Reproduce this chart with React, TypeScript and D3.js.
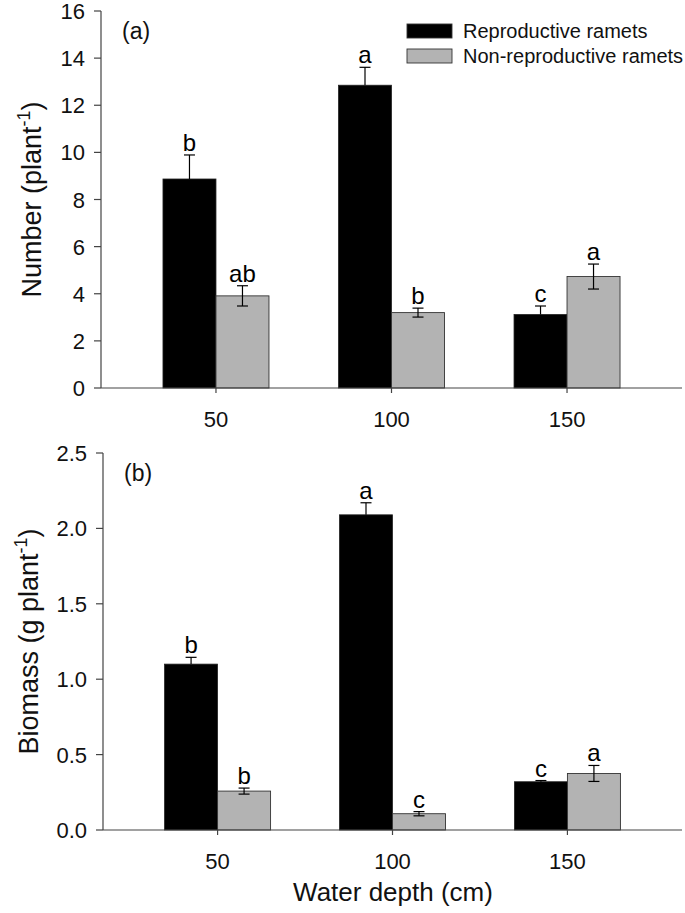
import React from "react";
import * as d3 from "d3";

const depths = ["50", "100", "150"];
const seriesNames = ["Reproductive ramets", "Non-reproductive ramets"];

// Panel (a): Number (plant-1)
const numRepro = [8.87, 12.85, 3.12];
const numReproErr = [1.02, 0.76, 0.36];
const numNonRepro = [3.91, 3.2, 4.73];
const numNonReproErr = [0.43, 0.19, 0.53];
const numReproLetters = ["b", "a", "c"];
const numNonReproLetters = ["ab", "b", "a"];
const numTicks = [0, 2, 4, 6, 8, 10, 12, 14, 16];

// Panel (b): Biomass (g plant-1)
const bioRepro = [1.1, 2.09, 0.32];
const bioReproErr = [0.045, 0.08, 0.008];
const bioNonRepro = [0.258, 0.108, 0.375];
const bioNonReproErr = [0.02, 0.014, 0.053];
const bioReproLetters = ["b", "a", "c"];
const bioNonReproLetters = ["b", "c", "a"];
const bioTicks = [0, 0.5, 1.0, 1.5, 2.0, 2.5];

const FONT = "'Liberation Sans', Arial, Helvetica, sans-serif";
const BAR_W = 53;
const GREY = "#b3b3b3";

type PanelProps = {
  x0: number; x1: number; yTop: number; yBottom: number;
  yMax: number; ticks: number[]; fmt: (v: number) => string;
  repro: number[]; reproErr: number[]; non: number[]; nonErr: number[];
  reproLetters: string[]; nonLetters: string[];
  panelLabel: string; yTitle: string; yTitleX: number;
  tickLabelY: number;
};

function Panel(p: PanelProps) {
  const x = d3.scalePoint<string>().domain(depths).range([p.x0, p.x1]).padding(0.655);
  const y = d3.scaleLinear().domain([0, p.yMax]).range([p.yBottom, p.yTop]);
  const cy = (p.yTop + p.yBottom) / 2;
  const errBar = (cx: number, v: number, e: number, both: boolean, key: string) => {
    const top = y(v + e);
    const bot = both ? y(v - e) : y(v);
    return (
      <g key={key} stroke="#000" strokeWidth={1.2}>
        <line x1={cx} x2={cx} y1={top} y2={bot} />
        <line x1={cx - 5.5} x2={cx + 5.5} y1={top} y2={top} />
        {both && <line x1={cx - 5.5} x2={cx + 5.5} y1={bot} y2={bot} />}
      </g>
    );
  };
  return (
    <g fontFamily={FONT}>
      {depths.map((d, i) => {
        const c = x(d) as number;
        const bx = c - BAR_W / 2;
        const gx = c + BAR_W / 2;
        return (
          <g key={d}>
            <rect x={c - BAR_W} y={y(p.repro[i])} width={BAR_W} height={y(0) - y(p.repro[i])} fill="#000" stroke="#222" strokeWidth={0.8} />
            <rect x={c} y={y(p.non[i])} width={BAR_W} height={y(0) - y(p.non[i])} fill={GREY} stroke="#333" strokeWidth={0.9} />
            {errBar(bx, p.repro[i], p.reproErr[i], false, "er" + i)}
            {errBar(gx, p.non[i], p.nonErr[i], true, "en" + i)}
            <text x={bx} y={y(p.repro[i] + p.reproErr[i]) - 4} textAnchor="middle" fontSize={24} fill="#000">{p.reproLetters[i]}</text>
            <text x={gx} y={y(p.non[i] + p.nonErr[i]) - 4} textAnchor="middle" fontSize={24} fill="#000">{p.nonLetters[i]}</text>
          </g>
        );
      })}
      <line x1={p.x0} x2={p.x0} y1={p.yTop} y2={p.yBottom} stroke="#444" strokeWidth={1.2} />
      {p.ticks.map((t) => (
        <g key={t}>
          <line x1={p.x0 - 7} x2={p.x0} y1={y(t)} y2={y(t)} stroke="#444" strokeWidth={1.2} />
          <text x={p.x0 - 16} y={y(t) + 8} textAnchor="end" fontSize={22} fill="#111">{p.fmt(t)}</text>
        </g>
      ))}
      <line x1={p.x0} x2={p.x1} y1={p.yBottom} y2={p.yBottom} stroke="#444" strokeWidth={1.2} />
      {depths.map((d) => (
        <g key={d}>
          <line x1={x(d) as number} x2={x(d) as number} y1={p.yBottom} y2={p.yBottom + 5} stroke="#444" strokeWidth={1.2} />
          <text x={x(d) as number} y={p.tickLabelY} textAnchor="middle" fontSize={22} fill="#111">{d}</text>
        </g>
      ))}
      <text x={p.x0 + 21} y={p.yTop + 28} fontSize={23} fill="#111">{p.panelLabel}</text>
      <text transform={`translate(${p.yTitleX},${cy}) rotate(-90)`} textAnchor="middle" fontSize={27} fill="#111">
        {p.yTitle}
        <tspan fontSize={18} dy={-11}>-1</tspan>
        <tspan dy={11}>)</tspan>
      </text>
    </g>
  );
}

export default function App() {
  return (
    <svg width={685} height={913} style={{ position: "absolute", left: 0, top: 0, background: "#fff" }}>
      <rect width={685} height={913} fill="#fff" />
      <Panel x0={101} x1={682} yTop={11} yBottom={388} yMax={16} ticks={numTicks} fmt={(v) => String(v)}
        repro={numRepro} reproErr={numReproErr} non={numNonRepro} nonErr={numNonReproErr}
        reproLetters={numReproLetters} nonLetters={numNonReproLetters}
        panelLabel="(a)" yTitle="Number (plant" yTitleX={41} tickLabelY={427} />
      <Panel x0={103} x1={682} yTop={453} yBottom={830} yMax={2.5} ticks={bioTicks} fmt={(v) => v.toFixed(1)}
        repro={bioRepro} reproErr={bioReproErr} non={bioNonRepro} nonErr={bioNonReproErr}
        reproLetters={bioReproLetters} nonLetters={bioNonReproLetters}
        panelLabel="(b)" yTitle="Biomass (g plant" yTitleX={38} tickLabelY={869} />
      <g fontFamily={FONT}>
        {seriesNames.map((s, i) => (
          <g key={s}>
            <rect x={407} y={24 + i * 25} width={45} height={14} fill={i === 0 ? "#000" : GREY} stroke="#333" strokeWidth={0.9} />
            <text x={463} y={38 + i * 25} fontSize={20} fill="#111">{s}</text>
          </g>
        ))}
        <text x={393} y={901} textAnchor="middle" fontSize={26} fill="#111">Water depth (cm)</text>
      </g>
    </svg>
  );
}
